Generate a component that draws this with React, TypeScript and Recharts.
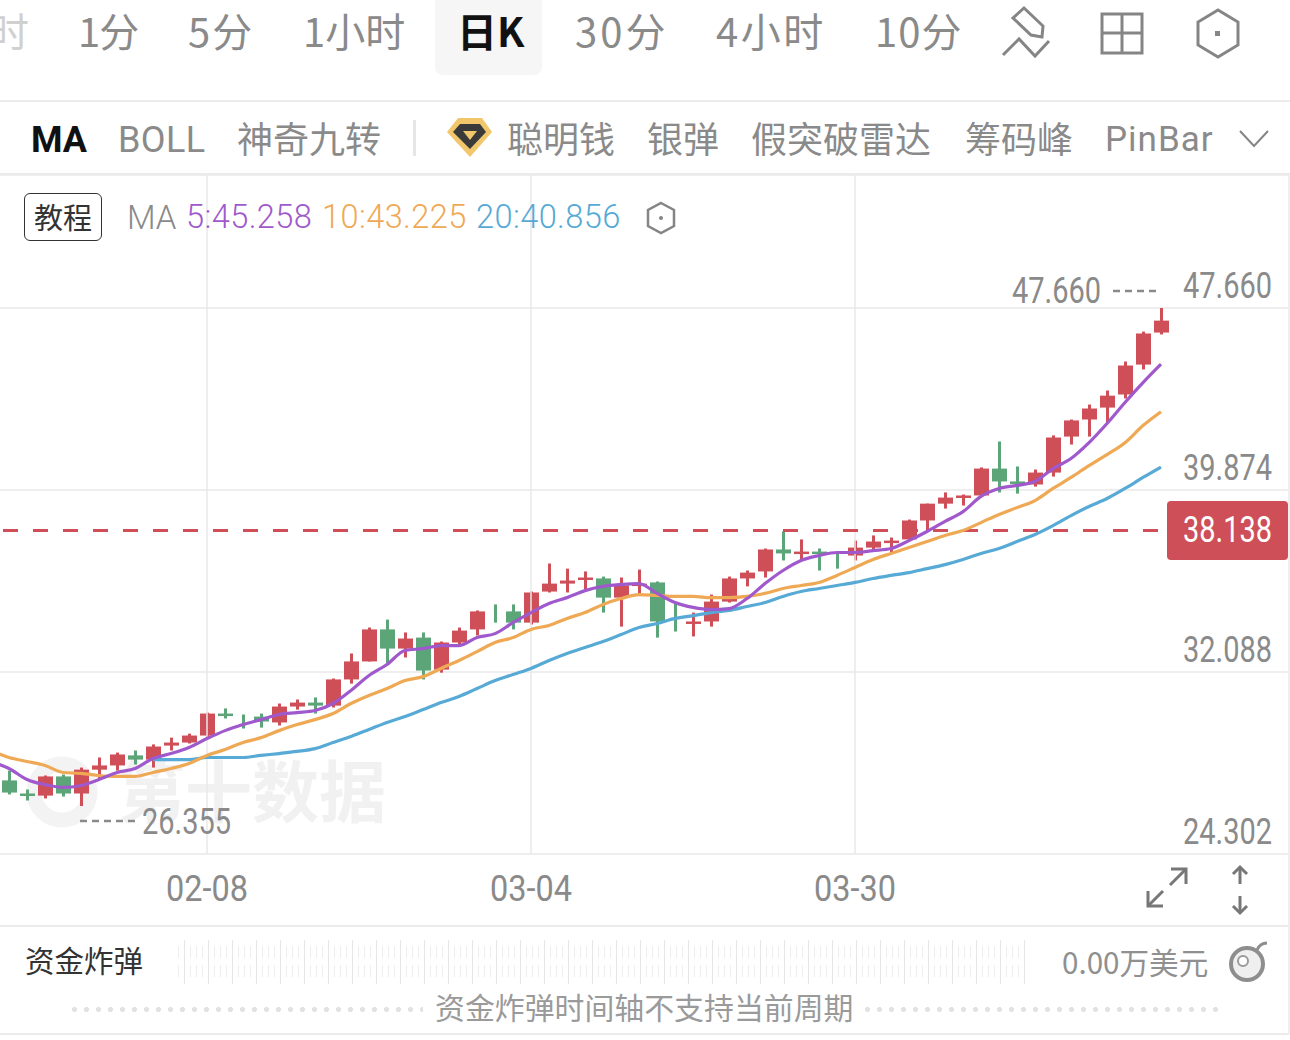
import { ComposedChart, Bar, Line, XAxis, YAxis, CartesianGrid, ReferenceLine } from 'recharts';

// first entry sits just off the left edge, only the MA lines use it
const dates = [
  '01-23', '01-24', '01-25', '01-26', '01-29', '01-30', '01-31', '02-01', '02-02', '02-05', '02-06', '02-07', '02-08',
  '02-09', '02-12', '02-13', '02-14', '02-15', '02-16', '02-19', '02-20', '02-21', '02-22', '02-23', '02-26', '02-27', '02-28', '02-29', '03-01', '03-02', '03-04',
  '03-05', '03-06', '03-07', '03-08', '03-11', '03-12', '03-13', '03-14', '03-15', '03-18', '03-19', '03-20', '03-21', '03-22', '03-25', '03-26', '03-27', '03-30',
  '03-31', '04-01', '04-02', '04-03', '04-04', '04-05', '04-08', '04-09', '04-10', '04-11', '04-12', '04-15', '04-16', '04-17', '04-18', '04-19', '04-22',
  '04-23', '04-24', '04-25', '04-26', '04-29', '04-30', '05-01',
];

const opens = [
  null, 27.45, 26.89, 26.80, 27.62, 26.89, 27.91, 28.09, 28.52, 28.34, 28.94, 29.07, 29.37, 30.31, 30.01, 30.18, 29.93, 30.61, 30.78, 30.65,
  31.77, 32.54, 33.91, 33.09, 33.56, 32.19, 33.35, 33.91, 34.59, 34.68, 34.20, 35.53, 35.87, 36.05, 36.09, 35.27, 35.83, 35.92, 34.29, 34.20,
  34.25, 35.10, 36.09, 36.39, 37.33, 37.20, 37.24, 37.16, 37.07, 37.41, 37.67, 37.76, 38.57, 39.29, 39.55, 39.64, 40.79, 40.24, 40.11, 40.62,
  42.16, 42.89, 43.40, 43.96, 45.24, 46.61,
];
const closes = [
  null, 26.93, 26.83, 27.62, 26.89, 27.91, 28.09, 28.56, 28.34, 28.90, 29.07, 29.37, 30.31, 30.23, 30.00, 29.97, 30.61, 30.78, 30.65, 31.77,
  32.54, 33.91, 33.09, 33.52, 32.15, 33.35, 33.86, 34.68, 34.58, 34.20, 35.49, 35.87, 36.00, 36.13, 35.27, 35.79, 35.87, 34.25, 34.28, 34.25,
  35.10, 36.09, 36.34, 37.33, 37.16, 37.24, 37.16, 37.15, 37.41, 37.67, 37.71, 38.57, 39.29, 39.55, 39.64, 40.79, 40.24, 40.15, 40.62, 42.12,
  42.85, 43.36, 43.91, 45.20, 46.57, 47.12,
];
const highs = [
  null, 27.87, 27.06, 27.66, 27.70, 28.00, 28.43, 28.64, 28.73, 28.99, 29.28, 29.45, 30.35, 30.53, 30.27, 30.31, 30.74, 30.91, 31.00, 31.81,
  32.88, 33.99, 34.33, 33.78, 33.78, 33.39, 33.99, 34.72, 34.98, 34.98, 35.53, 36.73, 36.51, 36.39, 36.17, 36.13, 36.47, 35.96, 35.06, 34.63,
  35.40, 36.17, 36.43, 37.37, 38.10, 37.76, 37.37, 37.16, 37.71, 37.93, 37.84, 38.61, 39.29, 39.77, 39.68, 40.84, 41.95, 40.88, 40.75, 42.21,
  42.89, 43.53, 44.13, 45.37, 46.65, 47.66,
];
const lows = [
  null, 26.85, 26.59, 26.68, 26.76, 26.355, 27.53, 27.87, 28.13, 28.00, 28.73, 29.03, 29.28, 30.10, 29.67, 29.71, 29.80, 30.48, 30.31, 30.57,
  31.59, 32.54, 32.45, 32.71, 31.77, 32.06, 33.18, 33.65, 34.20, 33.91, 34.12, 35.49, 35.49, 35.62, 34.63, 34.03, 35.45, 33.56, 33.82, 33.61,
  34.03, 35.06, 35.75, 36.13, 36.86, 36.86, 36.43, 36.51, 36.86, 37.33, 37.20, 37.71, 38.14, 39.08, 39.21, 39.60, 39.77, 39.72, 40.02, 40.45,
  41.82, 42.16, 42.72, 43.79, 45.03, 46.53,
];

const ma5 = [
  28.26, 27.96, 27.49, 27.27, 27.15, 27.23, 27.49, 27.79, 27.96, 28.39, 28.60, 28.86, 29.24, 29.58, 29.84, 30.05, 30.27, 30.35, 30.44, 30.74,
  31.30, 31.94, 32.41, 33.01, 33.09, 33.22, 33.22, 33.56, 33.73, 34.20, 34.63, 35.02, 35.27, 35.57, 35.75, 35.83, 35.87, 35.45, 35.06, 34.85,
  34.76, 34.80, 35.23, 35.87, 36.43, 36.86, 37.07, 37.20, 37.20, 37.28, 37.37, 37.71, 38.10, 38.53, 38.95, 39.60, 39.94, 40.07, 40.24, 40.79,
  41.22, 41.90, 42.72, 43.62, 44.47, 45.258,
];
const ma10 = [
  28.73, 28.43, 28.26, 28.09, 27.79, 27.75, 27.66, 27.62, 27.62, 27.79, 27.96, 28.17, 28.52, 28.77, 29.07, 29.28, 29.58, 29.84, 30.05, 30.31,
  30.74, 31.08, 31.38, 31.72, 31.89, 32.24, 32.58, 32.96, 33.35, 33.56, 33.91, 34.08, 34.38, 34.63, 34.98, 35.23, 35.40, 35.36, 35.32, 35.32,
  35.27, 35.27, 35.32, 35.45, 35.66, 35.79, 35.92, 36.22, 36.56, 36.90, 37.16, 37.41, 37.67, 37.93, 38.14, 38.48, 38.83, 39.12, 39.42, 39.94,
  40.41, 40.92, 41.39, 41.90, 42.63, 43.225,
];
const ma20 = [
  null, null, null, null, null, null, null, null, null, 28.34, 28.34, 28.34, 28.43, 28.43, 28.43, 28.52, 28.60, 28.69, 28.81, 29.07,
  29.33, 29.63, 29.93, 30.18, 30.48, 30.78, 31.04, 31.38, 31.72, 31.98, 32.24, 32.58, 32.88, 33.14, 33.39, 33.69, 33.99, 34.16, 34.38, 34.50,
  34.63, 34.72, 34.89, 35.06, 35.32, 35.53, 35.66, 35.79, 35.92, 36.09, 36.22, 36.34, 36.51, 36.68, 36.90, 37.16, 37.37, 37.67, 37.97, 38.35,
  38.78, 39.17, 39.51, 39.94, 40.41, 40.856,
];

const dateTicks = ['02-08', '03-04', '03-30'];
const priceTicks = [24.302, 32.088, 39.874, 47.66];
const lastPrice = 38.138;

const RED = '#CF4F58';
const GREEN = '#5BA579';
const GRID = '#E9E9E9';
const PURPLE = '#A059CC';
const ORANGE = '#EFA955';
const BLUE = '#57A9D6';
const GRAY = '#8A8A8A';
const NUM_FONT = 'Roboto, sans-serif';
const CJK = '"Noto Sans CJK SC", sans-serif';

const tableData = dates.map((d, i) => ({
  date: d,
  open: opens[i] ?? null,
  close: closes[i] ?? null,
  high: highs[i] ?? null,
  low: lows[i] ?? null,
  range: highs[i] != null ? [lows[i], highs[i]] : null,
  ma5: ma5[i] ?? null,
  ma10: ma10[i] ?? null,
  ma20: ma20[i] ?? null,
}));

function Candle(props: any) {
  const { x, y, width, height, payload } = props;
  if (!payload || payload.high == null) return null;
  const { open, close, high, low } = payload;
  const k = Math.abs(height) / (high - low);
  const cx = x + width / 2;
  const color = close >= open ? RED : GREEN;
  const bodyTop = y + (high - Math.max(open, close)) * k;
  const diff = Math.abs(open - close);
  const bodyH = Math.max(diff * k, 2.5);
  return (
    <g>
      <rect x={cx - 1.5} y={y} width={3} height={Math.abs(height)} fill={color} />
      {diff > 0.02 && <rect x={x} y={bodyTop} width={width} height={bodyH} fill={color} />}
    </g>
  );
}

// the app's digits are a condensed face, so squeeze Roboto to the same width
function Num({ x, y, w = 89, anchor = 'start', fill = GRAY, children }: any) {
  return (
    <text
      x={x}
      y={y}
      textAnchor={anchor}
      dominantBaseline="central"
      fontSize={36}
      fontFamily={NUM_FONT}
      fill={fill}
      stroke="none"
      textLength={w}
      lengthAdjust="spacingAndGlyphs"
    >
      {children}
    </text>
  );
}

function PriceTick({ y, payload }: any) {
  return (
    <Num x={1290} y={y - 22} anchor="end">
      {payload.value.toFixed(3)}
    </Num>
  );
}

function DateTick({ x, payload }: any) {
  return (
    <Num x={x} y={714} w={82} anchor="middle">
      {payload.value}
    </Num>
  );
}

function Label({ x, cy, size = 36, color = GRAY, bold = false, light = false, font = CJK, children, spacing = 0 }: any) {
  return (
    <div
      style={{
        position: 'absolute',
        left: x,
        top: cy - size,
        height: size * 2,
        lineHeight: `${size * 2}px`,
        fontSize: size,
        color,
        fontWeight: bold ? 700 : light ? 300 : 400,
        fontFamily: font,
        letterSpacing: spacing,
        whiteSpace: 'nowrap',
      }}
    >
      {children}
    </div>
  );
}

function Rule({ x = 0, y, w = 1290, h = 2, color = '#EBEBEB' }: any) {
  return <div style={{ position: 'absolute', left: x, top: y, width: w, height: h, background: color }} />;
}

function Icons() {
  return (
    <svg width={1290} height={1040} style={{ position: 'absolute', left: 0, top: 0 }} fill="none" stroke="#858585" strokeWidth={3}>
      {/* draw tool */}
      <polygon points="1024,8 1043,26 1042,37 1031,35 1013,18" />
      <polyline points="1003,55 1019,39 1035,56 1049,41" />
      {/* layout */}
      <rect x={1102} y={14} width={40} height={39} />
      <line x1={1122} y1={14} x2={1122} y2={53} />
      <line x1={1102} y1={33} x2={1142} y2={33} />
      {/* settings hexagons */}
      <polygon points="1218,10 1238,22 1238,45 1218,57 1198,45 1198,22" />
      <rect x={1215} y={31} width={5} height={5} fill="#858585" stroke="none" />
      <polygon points="661,203 674,210 674,226 661,233 648,226 648,210" strokeWidth={2.5} />
      <circle cx={661} cy={218} r={2} fill="#858585" stroke="none" />
      {/* chevron */}
      <polyline points="1240,131 1254,146 1268,131" strokeWidth={2} />
      {/* diamond badge */}
      <polygon points="458,118 482,118 492,132 470,157 447,132" fill="#F2C66B" stroke="none" />
      <polygon points="460,124 480,124 486,132 470,149 453,132" fill="#3A3A3A" stroke="none" />
      <polygon points="463,131 477,131 470,140" fill="#F2C66B" stroke="none" />
      {/* expand arrows */}
      <g stroke="#777">
        <line x1={1170} y1={885} x2={1186} y2={869} />
        <polyline points="1171,869 1186,869 1186,884" />
        <line x1={1163} y1={891} x2={1148} y2={906} />
        <polyline points="1148,891 1148,906 1163,906" />
        <line x1={1240} y1={867} x2={1240} y2={884} />
        <polyline points="1233,874 1240,867 1247,874" />
        <line x1={1240} y1={896} x2={1240} y2={913} />
        <polyline points="1233,906 1240,913 1247,906" />
      </g>
      {/* bomb */}
      <circle cx={1247} cy={964} r={16} fill="#EFEFEF" stroke="#8E8E8E" strokeWidth={4} />
      <circle cx={1243} cy={961} r={5} fill="#fff" stroke="#9A9A9A" strokeWidth={2} />
      <path d="M1257 950 Q1260 943 1267 943" stroke="#8E8E8E" strokeWidth={3} />
      {/* high / low markers */}
      <line x1={1113} y1={291} x2={1157} y2={291} stroke="#8A8A8A" strokeWidth={2.5} strokeDasharray="7 5" />
      <line x1={80} y1={821} x2={136} y2={821} stroke="#8A8A8A" strokeWidth={2.5} strokeDasharray="7 5" />
      <Num x={1012} y={291}>47.660</Num>
      <Num x={142} y={822}>26.355</Num>
      <Num x={1183} y={530} fill="#fff">38.138</Num>
    </svg>
  );
}

export default function App() {
  return (
    <div style={{ position: 'absolute', left: 0, top: 0, width: 1290, height: 1040, overflow: 'hidden', background: '#fff' }}>
      {/* period tabs */}
      <div style={{ position: 'absolute', left: 435, top: 0, width: 107, height: 75, background: '#F6F6F6', borderRadius: '0 0 8px 8px' }} />
      <Label x={-11} cy={30} size={40} color="#D0D0D0">时</Label>
      <Label x={78} cy={30} size={40} spacing={-1}>1分</Label>
      <Label x={188} cy={30} size={40} spacing={2}>5分</Label>
      <Label x={303} cy={30} size={40}>1小时</Label>
      <Label x={457} cy={30} size={40} color="#111" bold>日K</Label>
      <Label x={575} cy={30} size={40} spacing={3}>30分</Label>
      <Label x={716} cy={30} size={40} spacing={2.5}>4小时</Label>
      <Label x={875} cy={30} size={40} spacing={1}>10分</Label>
      <Rule y={100} />

      {/* indicator tabs */}
      <Label x={31} cy={140} size={36} color="#111" bold font="Roboto, sans-serif">MA</Label>
      <Label x={118} cy={140} size={36} spacing={0.4} font="Roboto, sans-serif">BOLL</Label>
      <Label x={237} cy={137} size={36}>神奇九转</Label>
      <Rule x={413} y={120} w={3} h={36} color="#E6E6E6" />
      <Label x={507} cy={137} size={36}>聪明钱</Label>
      <Label x={647} cy={137} size={36}>银弹</Label>
      <Label x={751} cy={137} size={36}>假突破雷达</Label>
      <Label x={965} cy={137} size={36}>筹码峰</Label>
      <Label x={1105} cy={140} size={35} spacing={1} font="Roboto, sans-serif">PinBar</Label>
      <Rule y={173} />

      {/* watermark */}
      <svg width={120} height={90} style={{ position: 'absolute', left: 15, top: 750 }}>
        <circle cx={47} cy={42} r={28} fill="none" stroke="#F3F3F3" strokeWidth={15} />
      </svg>
      <Label x={118} cy={788} size={67} color="#F1F1F1" bold>第十数据</Label>

      {/* price chart */}
      <div style={{ position: 'absolute', left: 0, top: 175, width: 1288, height: 751, overflow: 'hidden' }}>
        <div style={{ position: 'absolute', left: -18, top: 0 }}>
          <ComposedChart width={1314} height={751} data={tableData} margin={{ top: 0, right: 0, bottom: 0, left: 0 }} barCategoryGap={1}>
            <CartesianGrid vertical={false} stroke={GRID} strokeWidth={1.5} />
            <XAxis dataKey="date" ticks={dateTicks} interval={0} height={72} axisLine={false} tickLine={false} tick={DateTick} />
            <YAxis
              orientation="right"
              mirror
              domain={[24.302, 53.35]}
              ticks={priceTicks}
              allowDataOverflow
              axisLine={false}
              tickLine={false}
              tick={PriceTick}
            />
            {dateTicks.map((d) => (
              <ReferenceLine key={d} x={d} stroke={GRID} strokeWidth={1.5} />
            ))}
            <ReferenceLine y={lastPrice} stroke={RED} strokeWidth={3} strokeDasharray="15 15" strokeDashoffset={-18} />
            <Bar dataKey="range" barSize={15} shape={Candle} isAnimationActive={false} />
            <Line type="monotone" dataKey="ma20" stroke={BLUE} strokeWidth={3.2} dot={false} isAnimationActive={false} connectNulls={false} />
            <Line type="monotone" dataKey="ma10" stroke={ORANGE} strokeWidth={3.2} dot={false} isAnimationActive={false} />
            <Line type="monotone" dataKey="ma5" stroke={PURPLE} strokeWidth={3.2} dot={false} isAnimationActive={false} />
          </ComposedChart>
        </div>
      </div>

      {/* MA legend */}
      <div style={{ position: 'absolute', left: 24, top: 193, width: 76, height: 46, border: '1.5px solid #333', borderRadius: 6, textAlign: 'center', lineHeight: '44px', fontSize: 29, fontFamily: CJK, color: '#333' }}>
        教程
      </div>
      <Label x={127} cy={218} size={33} light font="Roboto, sans-serif">MA</Label>
      <Label x={186} cy={218} size={32.6} light spacing={0.4} color={PURPLE} font="Roboto, sans-serif">5:45.258</Label>
      <Label x={322} cy={218} size={32.6} light spacing={0.4} color={ORANGE} font="Roboto, sans-serif">10:43.225</Label>
      <Label x={476} cy={218} size={32.6} light spacing={0.4} color={BLUE} font="Roboto, sans-serif">20:40.856</Label>

      {/* last price tag, digits are drawn with the icons */}
      <div style={{ position: 'absolute', left: 1167, top: 501, width: 121, height: 59, background: RED, borderRadius: 4 }} />

      <Icons />

      {/* fund bomb strip */}
      <Rule y={925} />
      <Label x={25} cy={959} size={29.5} color="#333">资金炸弹</Label>
      <div style={{ position: 'absolute', left: 178, top: 946, width: 852, height: 12, background: 'repeating-linear-gradient(90deg, #EEE 0 1px, transparent 1px 6px)' }} />
      <div style={{ position: 'absolute', left: 178, top: 965, width: 852, height: 12, background: 'repeating-linear-gradient(90deg, #EEE 0 1px, transparent 1px 6px)' }} />
      <div style={{ position: 'absolute', left: 184, top: 940, width: 846, height: 44, background: 'repeating-linear-gradient(90deg, #E6E6E6 0 1px, transparent 1px 24px)' }} />
      <Label x={1062} cy={962} size={29.6} color="#909090">0.00万美元</Label>
      <div style={{ position: 'absolute', left: 72, top: 1007, width: 351, height: 5, background: 'radial-gradient(circle at 2.5px 2.5px, #E2E2E2 2.4px, transparent 2.6px) 0 0 / 12px 5px repeat-x' }} />
      <div style={{ position: 'absolute', left: 865, top: 1007, width: 353, height: 5, background: 'radial-gradient(circle at 2.5px 2.5px, #E2E2E2 2.4px, transparent 2.6px) 0 0 / 12px 5px repeat-x' }} />
      <Label x={435} cy={1007} size={29.9} color="#9A9A9A">资金炸弹时间轴不支持当前周期</Label>
      <Rule y={1033} />
      <Rule x={1288} y={175} w={2} h={860} color="#EFEFEF" />
    </div>
  );
}
